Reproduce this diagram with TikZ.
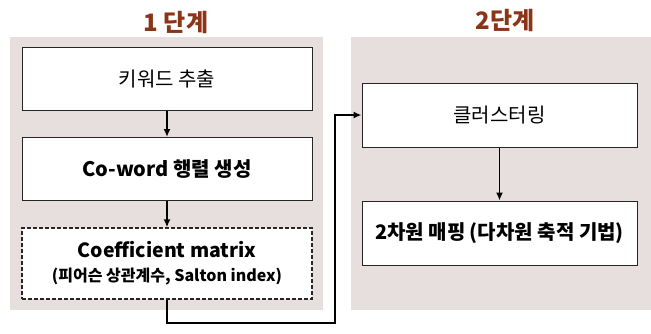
\documentclass[tikz,border=0pt]{standalone}
\usepackage{fontspec}
\usetikzlibrary{arrows.meta}
\setmainfont{Noto Sans CJK KR}
\definecolor{panel}{HTML}{E6DFDD}
\definecolor{titlec}{HTML}{8B3418}
\begin{document}
\begin{tikzpicture}[x=1pt,y=-1pt,
  box/.style={draw=black!85, fill=white, line width=1pt, minimum width=290pt, minimum height=63pt, inner sep=0pt, align=center},
  big/.style={font=\fontsize{20}{24}\selectfont},
  bigb/.style={font=\fontsize{20}{24}\selectfont\bfseries},
  arr/.style={-{Latex[length=8pt,width=7pt]}, line width=1.6pt},
  ttl/.style={text=titlec, font=\fontsize{24}{26}\selectfont\bfseries}]
\useasboundingbox (0,0) rectangle (651,333);
\fill[panel] (10,37) rectangle (323,310);
\fill[panel] (351,37) rectangle (651,310);
\node[ttl] (t1) at (176,22) {1 단계};
\node[ttl] (t2) at (505,20) {2단계};
\node[box, big] (a) at (167,78.5) {키워드 추출};
\node[box, bigb] (b) at (167,169) {Co-word 행렬 생성};
\node[box, dash pattern=on 4pt off 2pt, line width=1.3pt, minimum height=71pt, font=\fontsize{19.5}{22}\selectfont\bfseries] (c) at (167,263.5) {Coefficient matrix\\[2pt]{\fontsize{16}{18}\selectfont (피어슨 상관계수, Salton index)}};
\node[box, big, minimum width=275pt, minimum height=64pt] (d) at (499.5,115) {클러스터링};
\node[box, bigb, minimum width=275pt, minimum height=64pt] (e) at (499.5,233) {2차원 매핑 (다차원 축적 기법)};
\draw[arr] (a.south) -- (b.north);
\draw[arr] (b.south) -- (c.north);
\draw[arr] (d.south) -- (e.north);
\coordinate (p1) at (168,323);
\coordinate (p2) at (335,323);
\draw[arr] (c.south) |- (p1) -- (p2) |- (d.west);
\end{tikzpicture}
\end{document}
